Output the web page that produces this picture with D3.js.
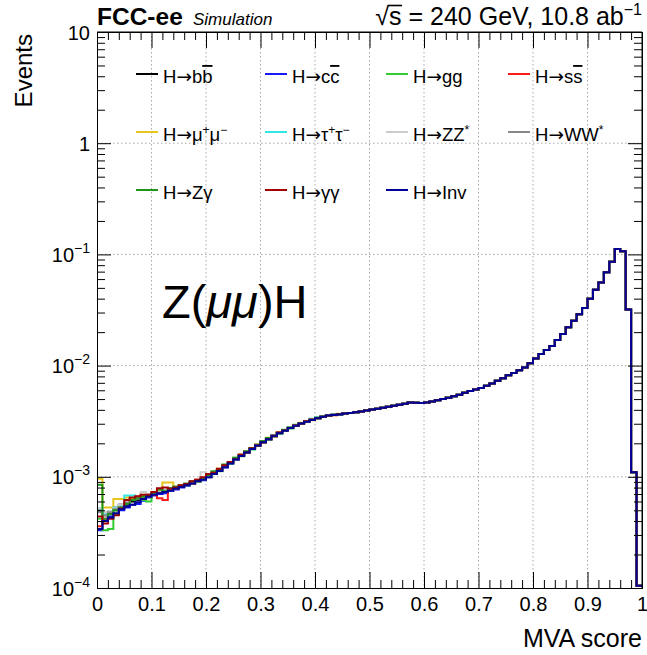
<!DOCTYPE html>
<html><head><meta charset="utf-8">
<script src="https://cdn.jsdelivr.net/npm/d3@7"></script>
<style>
body{margin:0;background:#fff}
text{font-family:"Liberation Sans",Arial,Helvetica,sans-serif;fill:#000}
tspan.arrow{font-family:"DejaVu Sans",sans-serif}
</style>
</head><body>
<svg id="c" width="647" height="655"></svg>
<script>
// ---------------- DATA ----------------
const xMin = 0, xMax = 1, nBins = 100;
const xTickLabels = ["0","0.1","0.2","0.3","0.4","0.5","0.6","0.7","0.8","0.9","1"];
const yTickExps = [-4,-3,-2,-1,0,1];
const seriesNames = ["bb","cc","gg","ss","mumu","tautau","ZZ","WW","Zgamma","gammagamma","Inv"];
const seriesColors = ["#000000","#1a1aff","#33cc33","#ff1a1a","#e8c51c","#33e6e6","#cccccc","#888888","#1e961e","#a00000","#000096"];
const legendLabels = [
  [{t:"H"},{t:"→",a:1},{t:"b"},{t:"b",o:1}],
  [{t:"H"},{t:"→",a:1},{t:"c"},{t:"c",o:1}],
  [{t:"H"},{t:"→",a:1},{t:"gg"}],
  [{t:"H"},{t:"→",a:1},{t:"s"},{t:"s",o:1}],
  [{t:"H"},{t:"→",a:1},{t:"μ"},{t:"+",s:1},{t:"μ"},{t:"−",s:1}],
  [{t:"H"},{t:"→",a:1},{t:"τ"},{t:"+",s:1},{t:"τ"},{t:"−",s:1}],
  [{t:"H"},{t:"→",a:1},{t:"ZZ"},{t:"*",s:1}],
  [{t:"H"},{t:"→",a:1},{t:"WW"},{t:"*",s:1}],
  [{t:"H"},{t:"→",a:1},{t:"Zγ"}],
  [{t:"H"},{t:"→",a:1},{t:"γγ"}],
  [{t:"H"},{t:"→",a:1},{t:"Inv"}]
];

// bins 0..44 (MVA 0.00-0.45), per decay mode
const head_bb = [5.0e-4,4.5e-4,4.7e-4,5.0e-4,5.6e-4,5.6e-4,6.0e-4,6.2e-4,6.4e-4,6.9e-4,7.1e-4,7.0e-4,7.4e-4,7.8e-4,8.0e-4,8.1e-4,8.4e-4,8.9e-4,9.3e-4,9.6e-4,1.00e-3,1.07e-3,1.16e-3,1.23e-3,1.35e-3,1.44e-3,1.58e-3,1.65e-3,1.82e-3,1.92e-3,2.08e-3,2.17e-3,2.36e-3,2.50e-3,2.60e-3,2.78e-3,2.87e-3,3.05e-3,3.12e-3,3.29e-3,3.40e-3,3.45e-3,3.58e-3,3.62e-3,3.68e-3];
const head_cc = [3.3e-4,4.0e-4,4.4e-4,4.6e-4,5.0e-4,5.3e-4,5.6e-4,5.7e-4,6.1e-4,6.5e-4,6.8e-4,7.0e-4,7.1e-4,7.5e-4,7.7e-4,8.0e-4,8.3e-4,8.6e-4,9.0e-4,9.3e-4,9.9e-4,1.06e-3,1.13e-3,1.21e-3,1.32e-3,1.43e-3,1.54e-3,1.66e-3,1.78e-3,1.90e-3,2.04e-3,2.18e-3,2.32e-3,2.46e-3,2.60e-3,2.74e-3,2.88e-3,3.01e-3,3.13e-3,3.25e-3,3.35e-3,3.46e-3,3.54e-3,3.59e-3,3.64e-3];
const head_gg = [4.2e-4,3.3e-4,3.4e-4,4.6e-4,5.2e-4,5.7e-4,6.3e-4,6.5e-4,6.2e-4,6.0e-4,7.2e-4,7.6e-4,7.3e-4,7.9e-4,8.1e-4,8.3e-4,8.4e-4,8.7e-4,9.0e-4,9.5e-4,1.03e-3,1.06e-3,1.12e-3,1.26e-3,1.32e-3,1.48e-3,1.53e-3,1.65e-3,1.76e-3,1.96e-3,2.02e-3,2.16e-3,2.30e-3,2.52e-3,2.58e-3,2.72e-3,2.94e-3,2.98e-3,3.17e-3,3.30e-3,3.35e-3,3.50e-3,3.54e-3,3.64e-3,3.62e-3];
const head_ss = [3.6e-4,4.2e-4,4.8e-4,5.3e-4,5.5e-4,5.9e-4,6.4e-4,6.6e-4,6.8e-4,6.6e-4,6.9e-4,6.4e-4,6.2e-4,7.6e-4,7.8e-4,8.3e-4,8.6e-4,8.7e-4,9.4e-4,9.7e-4,1.03e-3,1.09e-3,1.14e-3,1.26e-3,1.33e-3,1.47e-3,1.55e-3,1.69e-3,1.79e-3,1.95e-3,2.05e-3,2.22e-3,2.32e-3,2.50e-3,2.63e-3,2.75e-3,2.92e-3,3.02e-3,3.17e-3,3.25e-3,3.40e-3,3.46e-3,3.58e-3,3.58e-3,3.67e-3];
const head_mumu = [9.6e-4,5.3e-4,5.3e-4,6.3e-4,6.3e-4,6.5e-4,6.4e-4,6.5e-4,6.9e-4,7.0e-4,7.3e-4,7.5e-4,8.9e-4,8.9e-4,8.1e-4,8.3e-4,8.6e-4,9.0e-4,9.1e-4,9.8e-4,1.04e-3,1.10e-3,1.18e-3,1.25e-3,1.33e-3,1.47e-3,1.58e-3,1.69e-3,1.79e-3,1.96e-3,2.10e-3,2.24e-3,2.30e-3,2.46e-3,2.65e-3,2.73e-3,2.87e-3,3.06e-3,3.12e-3,3.23e-3,3.35e-3,3.52e-3,3.55e-3,3.58e-3,3.69e-3];
const head_tautau = [5.2e-4,4.6e-4,4.9e-4,5.3e-4,5.5e-4,6.8e-4,6.8e-4,6.5e-4,6.7e-4,6.7e-4,7.1e-4,7.3e-4,7.4e-4,7.6e-4,8.0e-4,8.1e-4,8.6e-4,8.8e-4,9.2e-4,9.5e-4,1.01e-3,1.09e-3,1.14e-3,1.24e-3,1.35e-3,1.43e-3,1.57e-3,1.68e-3,1.77e-3,1.94e-3,2.07e-3,2.18e-3,2.35e-3,2.47e-3,2.65e-3,2.73e-3,2.92e-3,3.04e-3,3.13e-3,3.32e-3,3.43e-3,3.46e-3,3.59e-3,3.63e-3,3.62e-3];
const head_ZZ = [5.2e-4,4.8e-4,4.9e-4,5.2e-4,5.6e-4,5.9e-4,6.2e-4,6.6e-4,7.3e-4,7.0e-4,7.0e-4,7.3e-4,7.6e-4,7.6e-4,8.0e-4,8.3e-4,8.4e-4,8.9e-4,9.4e-4,1.10e-3,1.05e-3,1.09e-3,1.16e-3,1.25e-3,1.33e-3,1.46e-3,1.56e-3,1.68e-3,1.81e-3,1.93e-3,2.07e-3,2.21e-3,2.33e-3,2.49e-3,2.61e-3,2.77e-3,2.89e-3,3.04e-3,3.16e-3,3.26e-3,3.39e-3,3.48e-3,3.57e-3,3.60e-3,3.66e-3];
const head_WW = [4.8e-4,4.5e-4,4.8e-4,5.1e-4,5.3e-4,5.8e-4,6.2e-4,6.3e-4,6.5e-4,6.8e-4,7.1e-4,7.2e-4,7.5e-4,7.8e-4,7.9e-4,8.1e-4,8.5e-4,8.9e-4,9.1e-4,9.5e-4,1.03e-3,1.08e-3,1.15e-3,1.23e-3,1.35e-3,1.45e-3,1.56e-3,1.66e-3,1.81e-3,1.93e-3,2.05e-3,2.20e-3,2.35e-3,2.48e-3,2.62e-3,2.75e-3,2.91e-3,3.03e-3,3.16e-3,3.26e-3,3.38e-3,3.49e-3,3.55e-3,3.61e-3,3.64e-3];
const head_Zgamma = [8.5e-4,4.2e-4,4.6e-4,5.0e-4,5.3e-4,5.7e-4,6.2e-4,6.4e-4,6.6e-4,6.8e-4,7.2e-4,7.7e-4,7.4e-4,7.9e-4,8.2e-4,8.4e-4,8.7e-4,9.1e-4,9.3e-4,9.6e-4,1.03e-3,1.12e-3,1.16e-3,1.29e-3,1.35e-3,1.48e-3,1.55e-3,1.70e-3,1.82e-3,1.90e-3,2.10e-3,2.23e-3,2.33e-3,2.45e-3,2.64e-3,2.78e-3,2.89e-3,3.02e-3,3.14e-3,3.26e-3,3.39e-3,3.49e-3,3.56e-3,3.59e-3,3.66e-3];
const head_gammagamma = [4.4e-4,3.8e-4,4.2e-4,4.5e-4,5.2e-4,6.2e-4,6.5e-4,6.7e-4,6.9e-4,6.9e-4,7.3e-4,7.9e-4,8.0e-4,7.8e-4,8.0e-4,8.4e-4,8.6e-4,9.1e-4,9.4e-4,9.9e-4,1.06e-3,1.09e-3,1.18e-3,1.27e-3,1.36e-3,1.44e-3,1.58e-3,1.65e-3,1.81e-3,1.91e-3,2.05e-3,2.18e-3,2.34e-3,2.50e-3,2.61e-3,2.74e-3,2.90e-3,3.01e-3,3.16e-3,3.28e-3,3.37e-3,3.47e-3,3.56e-3,3.61e-3,3.65e-3];
const head_Inv = [3.4e-4,4.0e-4,4.3e-4,4.7e-4,5.1e-4,5.4e-4,5.6e-4,5.9e-4,6.3e-4,6.6e-4,6.9e-4,7.1e-4,7.3e-4,7.5e-4,7.8e-4,8.1e-4,8.4e-4,8.7e-4,9.1e-4,9.4e-4,9.9e-4,1.06e-3,1.13e-3,1.22e-3,1.32e-3,1.43e-3,1.54e-3,1.65e-3,1.78e-3,1.91e-3,2.04e-3,2.18e-3,2.32e-3,2.46e-3,2.60e-3,2.74e-3,2.88e-3,3.01e-3,3.13e-3,3.25e-3,3.36e-3,3.46e-3,3.55e-3,3.60e-3,3.64e-3];
// bins 45..99 (MVA 0.45-1.00), the modes overlap here
const tail_common = [3.70e-3,3.75e-3,3.80e-3,3.87e-3,3.95e-3,4.02e-3,4.10e-3,4.18e-3,4.26e-3,4.35e-3,4.44e-3,4.55e-3,4.66e-3,4.64e-3,4.60e-3,4.66e-3,4.76e-3,4.88e-3,5.00e-3,5.14e-3,5.30e-3,5.48e-3,5.70e-3,5.92e-3,6.10e-3,6.30e-3,6.60e-3,6.90e-3,7.30e-3,7.70e-3,8.20e-3,8.60e-3,9.10e-3,9.60e-3,1.05e-2,1.16e-2,1.27e-2,1.38e-2,1.50e-2,1.70e-2,1.92e-2,2.21e-2,2.53e-2,2.90e-2,3.30e-2,4.00e-2,4.80e-2,5.60e-2,6.90e-2,8.60e-2,0.112,0.107,3.2e-2,1.1e-3,1.05e-4];

const heads = [head_bb,head_cc,head_gg,head_ss,head_mumu,head_tautau,head_ZZ,head_WW,head_Zgamma,head_gammagamma,head_Inv];

// ---------------- LAYOUT ----------------
const L = 97, R = 642, T = 32, B = 588;
const svg = d3.select("#c");
const x = d3.scaleLinear().domain([xMin, xMax]).range([L, R]);
const y = d3.scaleLog().domain([1e-4, 10]).range([B, T]);

const binW = (xMax - xMin) / nBins;
const binLows = d3.range(nBins).map(i => xMin + i * binW);

// grid
const xGrid = d3.range(1, 10).map(i => i / 10);
const yGrid = [1e-3, 1e-2, 1e-1, 1];
svg.append("g").selectAll("line").data(xGrid).join("line")
  .attr("x1", d => x(d)).attr("x2", d => x(d)).attr("y1", T).attr("y2", B)
  .attr("stroke", "#a8a8a8").attr("stroke-dasharray", "1.5,2.5").attr("stroke-width", 1);
svg.append("g").selectAll("line").data(yGrid).join("line")
  .attr("x1", L).attr("x2", R).attr("y1", d => y(d)).attr("y2", d => y(d))
  .attr("stroke", "#a8a8a8").attr("stroke-dasharray", "1.5,2.5").attr("stroke-width", 1);

// histograms
svg.append("clipPath").attr("id", "clip").append("rect")
  .attr("x", L).attr("y", T).attr("width", R - L).attr("height", B - T + 1);
const line = d3.line().x(d => x(d[0])).y(d => y(Math.max(d[1], 5e-5))).curve(d3.curveStepAfter);
const gH = svg.append("g").attr("clip-path", "url(#clip)");
heads.forEach((h, k) => {
  const vals = h.concat(tail_common);
  const pts = binLows.map((b, i) => [b, vals[i]]);
  pts.push([xMax, vals[nBins - 1]]);
  gH.append("path").attr("d", line(pts)).attr("fill", "none")
    .attr("stroke", seriesColors[k]).attr("stroke-width", 2);
});

// axes
const xMajor = d3.range(0, 11).map(i => i / 10);
const xMinor = d3.range(0, 51).map(i => i / 50).filter(v => Math.abs(v * 10 - Math.round(v * 10)) > 1e-6);
const yMajor = yTickExps.map(e => Math.pow(10, e));
const yMinor = [];
yTickExps.slice(0, -1).forEach(e => { for (let m = 2; m <= 9; m++) yMinor.push(m * Math.pow(10, e)); });

function styleAxis(g) {
  g.selectAll("line").attr("stroke", "#000").attr("stroke-width", 1);
  g.selectAll(".domain").attr("stroke", "#000").attr("stroke-width", 1);
}
const fmtX = d => xTickLabels[Math.round(d * 10)];
svg.append("g").attr("transform", `translate(0,${B})`)
  .call(d3.axisBottom(x).tickValues(xMajor).tickSize(-16).tickSizeOuter(0).tickFormat(fmtX))
  .call(styleAxis)
  .call(g => g.selectAll("text").attr("font-size", 20).attr("y", 9).attr("dy", "0.71em").attr("fill","#000"));
svg.append("g").attr("transform", `translate(0,${B})`)
  .call(d3.axisBottom(x).tickValues(xMinor).tickSize(-8).tickSizeOuter(0).tickFormat(""))
  .call(styleAxis);
svg.append("g").attr("transform", `translate(0,${T})`)
  .call(d3.axisTop(x).tickValues(xMajor).tickSize(-16).tickSizeOuter(0).tickFormat(""))
  .call(styleAxis);
svg.append("g").attr("transform", `translate(0,${T})`)
  .call(d3.axisTop(x).tickValues(xMinor).tickSize(-8).tickSizeOuter(0).tickFormat(""))
  .call(styleAxis);

const yAxisL = svg.append("g").attr("transform", `translate(${L},0)`)
  .call(d3.axisLeft(y).tickValues(yMajor).tickSize(-14).tickSizeOuter(0).tickFormat(""))
  .call(styleAxis);
svg.append("g").attr("transform", `translate(${L},0)`)
  .call(d3.axisLeft(y).tickValues(yMinor).tickSize(-8).tickSizeOuter(0).tickFormat(""))
  .call(styleAxis);
svg.append("g").attr("transform", `translate(${R},0)`)
  .call(d3.axisRight(y).tickValues(yMajor).tickSize(-14).tickSizeOuter(0).tickFormat(""))
  .call(styleAxis);
svg.append("g").attr("transform", `translate(${R},0)`)
  .call(d3.axisRight(y).tickValues(yMinor).tickSize(-8).tickSizeOuter(0).tickFormat(""))
  .call(styleAxis);

// y tick labels
yAxisL.selectAll(".tick").each(function(d) {
  const e = Math.round(Math.log10(d));
  const t = d3.select(this).append("text").attr("x", -7).attr("y", 7)
    .attr("text-anchor", "end").attr("font-size", 20).attr("fill", "#000");
  if (e === 1) t.text("10");
  else if (e === 0) t.text("1");
  else {
    t.append("tspan").text("10");
    t.append("tspan").attr("dy", -9).attr("font-size", 14).text("−" + (-e));
  }
});

// frame top/right lines
svg.append("line").attr("x1", L).attr("x2", R).attr("y1", T).attr("y2", T).attr("stroke", "#000");
svg.append("line").attr("x1", R).attr("x2", R).attr("y1", T).attr("y2", B).attr("stroke", "#000");

// axis titles
svg.append("text").attr("x", R).attr("y", 647).attr("text-anchor", "end")
  .attr("font-size", 25).text("MVA score");
svg.append("text").attr("transform", `translate(32,${T + 2}) rotate(-90)`).attr("text-anchor", "end")
  .attr("font-size", 24).text("Events");

// header
svg.append("text").attr("x", L).attr("y", 25).attr("font-size", 24.5).attr("font-weight", "bold").text("FCC-ee");
svg.append("text").attr("x", 193).attr("y", 25).attr("font-size", 17).attr("font-style", "italic").text("Simulation");
const hdr = svg.append("text").attr("x", R).attr("y", 25).attr("text-anchor", "end").attr("font-size", 25);
hdr.append("tspan").text("√");
hdr.append("tspan").text("s");
hdr.append("tspan").text(" = 240 GeV, 10.8 ab");
hdr.append("tspan").attr("dy", -10).attr("font-size", 16).text("−1");
// radical bar over the "s"
{
  const n = hdr.node();
  const s0 = n.getStartPositionOfChar(1), s1 = n.getEndPositionOfChar(1);
  const r0 = n.getEndPositionOfChar(0);
  svg.append("line").attr("x1", r0.x - 1.5).attr("x2", s1.x + 0.5)
    .attr("y1", 25 - 19.5).attr("y2", 25 - 19.5).attr("stroke", "#000").attr("stroke-width", 1.6);
}

// process label
const zl = svg.append("text").attr("x", 162).attr("y", 318).attr("font-size", 47);
zl.append("tspan").text("Z(");
zl.append("tspan").attr("font-style", "italic").text("μμ");
zl.append("tspan").text(")H");

// legend
const legCols = [136, 265, 386, 508];
const legRows = [74, 132, 190];
const leg = svg.append("g");
legendLabels.forEach((segs, k) => {
  const cx = legCols[k % 4], cy = legRows[Math.floor(k / 4)];
  leg.append("line").attr("x1", cx).attr("x2", cx + 22).attr("y1", cy).attr("y2", cy)
    .attr("stroke", seriesColors[k]).attr("stroke-width", 2);
  const t = leg.append("text").attr("x", cx + 27).attr("y", cy + 9).attr("font-size", 18.5);
  let shifted = false;
  segs.forEach(s => {
    const sp = t.append("tspan").text(s.t);
    if (s.s) { sp.attr("dy", -7).attr("font-size", 12); shifted = true; }
    else if (shifted) { sp.attr("dy", 7); shifted = false; }
    if (s.a) sp.attr("class", "arrow");
    if (s.o) sp.attr("style", "text-decoration:overline");
  });
});
</script>
</body></html>
